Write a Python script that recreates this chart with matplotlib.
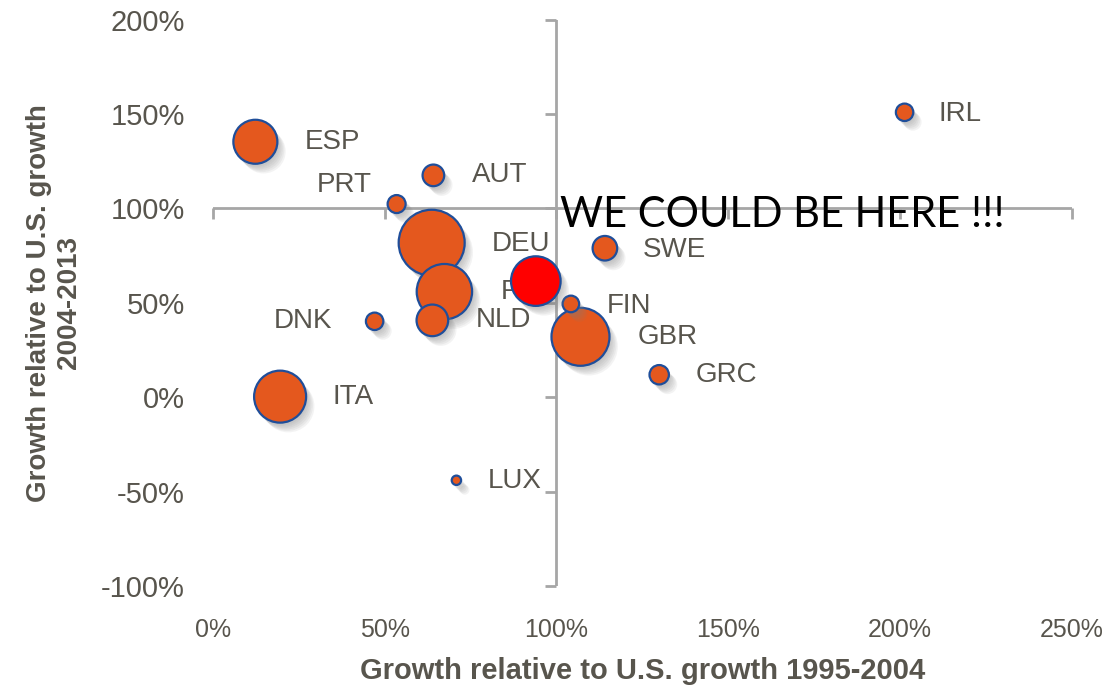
import matplotlib
matplotlib.use("Agg")
import matplotlib.pyplot as plt
import matplotlib.patheffects as pe
from matplotlib.ticker import FuncFormatter
import numpy as np

# ---- data ----
countries = ["ESP", "AUT", "PRT", "DEU", "FRA", "NLD", "DNK", "FIN",
             "GBR", "GRC", "LUX", "SWE", "IRL", "ITA"]
growth_9504 = [0.124, 0.642, 0.535, 0.637, 0.674, 0.639, 0.471, 1.042,
               1.070, 1.299, 0.709, 1.141, 2.013, 0.196]
growth_0413 = [1.353, 1.175, 1.023, 0.818, 0.559, 0.407, 0.402, 0.494,
               0.320, 0.119, -0.440, 0.789, 1.509, 0.003]
bubble_size = [484, 117, 81, 1089, 767, 250, 76, 69,
               841, 94, 22, 151, 76, 676]

target_x = [0.940]
target_y = [0.615]
target_size = [615]
target_text = "WE COULD BE HERE !!!"

x_ticks = [0, 0.5, 1.0, 1.5, 2.0, 2.5]
y_ticks = [-1.0, -0.5, 0, 0.5, 1.0, 1.5, 2.0]

# label offsets in pixels (dx, dy, ha)
label_offsets = {
    "ESP": (49, 0, "left"), "AUT": (39, 0, "left"), "PRT": (-25, 19, "right"),
    "DEU": (60, -1, "left"), "FRA": (56, 0, "left"), "NLD": (43, 0, "left"),
    "DNK": (-42, 0, "right"), "FIN": (36, -2, "left"), "GBR": (57, 0, "left"),
    "GRC": (36, 0, "left"), "LUX": (31, -1, "left"), "SWE": (38, -2, "left"),
    "IRL": (34, -2, "left"), "ITA": (52, 0, "left"),
}

ORANGE = "#E4581E"
EDGE = "#1F4E9A"
TXT = "#58554D"
AXIS = "#A6A6A6"

plt.rcParams["font.family"] = ["Liberation Sans", "DejaVu Sans"]

fig = plt.figure(figsize=(11.15, 6.9), dpi=100)
ax = fig.add_axes([0.1908, 0.1507, 0.7706, 0.8209])
ax.set_xlim(0, 2.5)
ax.set_ylim(-1.0, 2.0)
for s in ax.spines.values():
    s.set_visible(False)

ax.set_xticks(x_ticks)
ax.set_yticks(y_ticks)
pct = FuncFormatter(lambda v, p: f"{v*100:.0f}%")
ax.xaxis.set_major_formatter(pct)
ax.yaxis.set_major_formatter(pct)
ax.tick_params(axis="both", length=0, colors=TXT)
ax.tick_params(axis="x", labelsize=18, pad=23)
ax.tick_params(axis="y", labelsize=21, pad=20)

# crossing axis lines at 100%
ax.axhline(1.0, color=AXIS, lw=2, zorder=1)
ax.axvline(1.0, color=AXIS, lw=2, zorder=1)
ax.plot(x_ticks, [1.0] * len(x_ticks), ls="none", marker=3, ms=8,
        mew=2, color=AXIS, zorder=1, clip_on=False)
ax.plot([1.0] * len(y_ticks), y_ticks, ls="none", marker=0, ms=8,
        mew=2, color=AXIS, zorder=1, clip_on=False)

def s_from(v):
    # bubble value -> marker area (points^2); radius in px ~ sqrt(v)
    r_px = np.sqrt(np.asarray(v, dtype=float))
    return (2 * r_px * 0.72) ** 2

shadow = [pe.SimplePatchShadow(offset=(o, -o - 1), shadow_rgbFace="#808080", alpha=0.09)
          for o in (1, 2, 3, 4, 5, 6)] + [pe.Normal()]

order = np.argsort(bubble_size)[::-1]
xs = np.array(growth_9504)[order]
ys = np.array(growth_0413)[order]
ss = s_from(np.array(bubble_size)[order])
for x, y, s in zip(xs, ys, ss):
    sc = ax.scatter([x], [y], s=[s], c=ORANGE, edgecolors=EDGE,
                    linewidths=1.6, zorder=3, clip_on=False)
    sc.set_path_effects(shadow)

for name, x, y in zip(countries, growth_9504, growth_0413):
    dx, dy, ha = label_offsets[name]
    ax.annotate(name, (x, y), xytext=(dx, dy), textcoords="offset pixels",
                ha=ha, va="center", fontsize=20, color=TXT, zorder=4)

sc = ax.scatter(target_x, target_y, s=s_from(target_size), c="#FF0000",
                edgecolors=EDGE, linewidths=1.6, zorder=5)
sc.set_path_effects(shadow)

ax.text(1.01, 0.965, target_text, fontsize=30, color="black",
        family=["Lato", "DejaVu Sans"], ha="left", va="center", zorder=6)

ax.set_xlabel("Growth relative to U.S. growth 1995-2004", fontsize=21,
              fontweight="bold", color=TXT, labelpad=11)
ax.set_ylabel("Growth relative to U.S. growth\n2004-2013", fontsize=20,
              fontweight="bold", color=TXT, labelpad=14, linespacing=1.2)

fig.savefig("out.png", dpi=100)
